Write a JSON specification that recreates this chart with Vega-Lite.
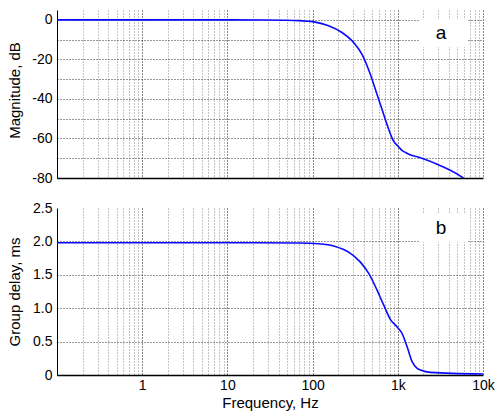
{
  "$schema": "https://vega.github.io/schema/vega-lite/v6.json",
  "padding": {"left": 7, "top": 10, "right": 0, "bottom": 2},
  "spacing": 30,
  "bounds": "flush",
  "config": {
    "view": {"stroke": null},
    "font": "Liberation Sans",
    "axis": {
      "labelFont": "Liberation Sans",
      "titleFont": "Liberation Sans",
      "labelFontSize": 14,
      "titleFontSize": 15,
      "titleFontWeight": "normal",
      "labelColor": "#000",
      "titleColor": "#000",
      "domainColor": "#000",
      "ticks": false,
      "gridDash": [1, 2],
      "gridWidth": 1
    }
  },
  "datasets": {
    "mag": [
      {"f": 0.1, "v": 0}, {"f": 1, "v": 0}, {"f": 10, "v": 0}, {"f": 30, "v": -0.05},
      {"f": 50, "v": -0.15}, {"f": 70, "v": -0.4}, {"f": 100, "v": -0.9}, {"f": 154, "v": -3.0},
      {"f": 221, "v": -6.4}, {"f": 304, "v": -11.5}, {"f": 380, "v": -17.4}, {"f": 477, "v": -27.6},
      {"f": 571, "v": -37.8}, {"f": 654, "v": -45.4}, {"f": 748, "v": -53}, {"f": 897, "v": -61.5},
      {"f": 1028, "v": -64.3}, {"f": 1100, "v": -65.8}, {"f": 1232, "v": -67.1}, {"f": 1346, "v": -68},
      {"f": 1767, "v": -69.5}, {"f": 3035, "v": -73.4}, {"f": 5715, "v": -79.7}, {"f": 6000, "v": -80.4}
    ],
    "gd": [
      {"f": 0.1, "v": 1.98}, {"f": 10, "v": 1.98}, {"f": 68.5, "v": 1.975}, {"f": 117, "v": 1.965},
      {"f": 185, "v": 1.925}, {"f": 265, "v": 1.84}, {"f": 364, "v": 1.69}, {"f": 456, "v": 1.52},
      {"f": 571, "v": 1.27}, {"f": 684, "v": 1.045}, {"f": 820, "v": 0.83}, {"f": 982, "v": 0.72},
      {"f": 1124, "v": 0.62}, {"f": 1289, "v": 0.42}, {"f": 1472, "v": 0.2}, {"f": 1687, "v": 0.1},
      {"f": 1849, "v": 0.075}, {"f": 2426, "v": 0.04}, {"f": 10000, "v": 0.015}
    ],
    "boxA": [{"f": 1767, "f2": 6486, "v": 0.35, "v2": -13.9}],
    "textA": [{"f": 3206, "v": -6.8, "t": "a"}],
    "boxB": [{"f": 1767, "f2": 6486, "v": 2.41, "v2": 1.99}],
    "textB": [{"f": 3206, "v": 2.2, "t": "b"}]
  },
  "vconcat": [
    {
      "width": 426,
      "height": 168,
      "encoding": {
        "x": {"field": "f", "type": "quantitative", "scale": {"type": "log", "domain": [0.1, 10000], "nice": false},
          "axis": {
            "values": [0.2,0.3,0.4,0.5,0.6,0.7,0.8,0.9,1,2,3,4,5,6,7,8,9,10,20,30,40,50,60,70,80,90,100,200,300,400,500,600,700,800,900,1000,2000,3000,4000,5000,6000,7000,8000,9000,10000],
            "labels": false, "title": null, "grid": true, "domainWidth": 1.5,
            "gridColor": {"condition": {"test": "indexof([1,10,100,1000,10000], datum.value) >= 0", "value": "#111"}, "value": "#888"}
          }},
        "y": {"field": "v", "type": "quantitative", "scale": {"domain": [-80, 5], "nice": false, "zero": false},
          "axis": {
            "values": [-80,-70,-60,-50,-40,-30,-20,-10,0],
            "labelExpr": "datum.value % 20 == 0 ? '' + datum.value : ''",
            "labelPadding": 5, "grid": true, "gridColor": "#333",
            "title": "Magnitude, dB", "titleX": -35, "titleY": 80, "labelOverlap": false
          }}
      },
      "layer": [
        {
          "data": {"name": "boxA"},
          "mark": {"type": "rect", "color": "white"},
          "encoding": {"x2": {"field": "f2"}, "y2": {"field": "v2"}}
        },
        {
          "data": {"name": "mag"},
          "mark": {"type": "line", "color": "#0a0aff", "strokeWidth": 1.6, "clip": true, "interpolate": "monotone"}
        },
        {
          "data": {"name": "textA"},
          "mark": {"type": "text", "fontSize": 19, "font": "Liberation Sans", "color": "#000"},
          "encoding": {"text": {"field": "t"}}
        }
      ]
    },
    {
      "width": 426,
      "height": 167,
      "encoding": {
        "x": {"field": "f", "type": "quantitative", "scale": {"type": "log", "domain": [0.1, 10000], "nice": false},
          "axis": {
            "values": [0.2,0.3,0.4,0.5,0.6,0.7,0.8,0.9,1,2,3,4,5,6,7,8,9,10,20,30,40,50,60,70,80,90,100,200,300,400,500,600,700,800,900,1000,2000,3000,4000,5000,6000,7000,8000,9000,10000],
            "labelExpr": "datum.value == 1 ? '1' : datum.value == 10 ? '10' : datum.value == 100 ? '100' : datum.value == 1000 ? '1k' : datum.value == 10000 ? '10k' : ''",
            "labelOverlap": false, "labelFlush": false, "labelPadding": 3,
            "title": "Frequency, Hz", "titlePadding": 3, "grid": true, "domainWidth": 1.5,
            "gridColor": {"condition": {"test": "indexof([1,10,100,1000,10000], datum.value) >= 0", "value": "#111"}, "value": "#888"}
          }},
        "y": {"field": "v", "type": "quantitative", "scale": {"domain": [0, 2.5], "nice": false},
          "axis": {
            "values": [0, 0.5, 1, 1.5, 2, 2.5],
            "labelExpr": "datum.value == 0 ? '0' : format(datum.value, '.1f')",
            "labelPadding": 5, "grid": true, "gridColor": "#333",
            "gridOpacity": {"condition": {"test": "datum.value == 2.5", "value": 0}, "value": 1},
            "title": "Group delay, ms", "titleX": -35, "labelOverlap": false
          }}
      },
      "layer": [
        {
          "data": {"name": "boxB"},
          "mark": {"type": "rect", "color": "white"},
          "encoding": {"x2": {"field": "f2"}, "y2": {"field": "v2"}}
        },
        {
          "data": {"name": "gd"},
          "mark": {"type": "line", "color": "#0a0aff", "strokeWidth": 1.6, "clip": true, "interpolate": "monotone"}
        },
        {
          "data": {"name": "textB"},
          "mark": {"type": "text", "fontSize": 19, "font": "Liberation Sans", "color": "#000"},
          "encoding": {"text": {"field": "t"}}
        }
      ]
    }
  ]
}
